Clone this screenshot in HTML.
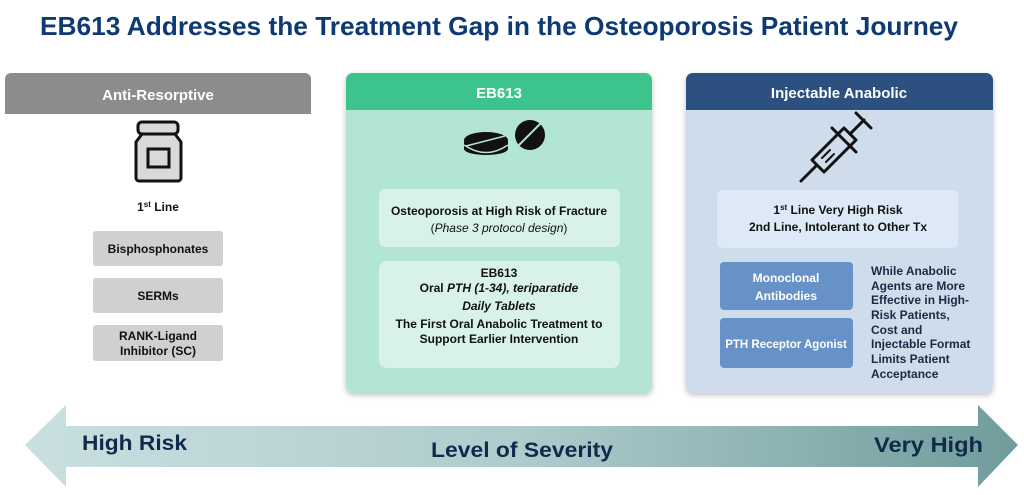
<!DOCTYPE html>
<html><head><meta charset="utf-8"><style>
body{margin:0;background:#fff;}
svg text{font-family:"Liberation Sans",sans-serif;font-weight:bold;}
</style></head><body>
<svg width="1024" height="490" viewBox="0 0 1024 490" xmlns="http://www.w3.org/2000/svg">
<defs>
<linearGradient id="ag" x1="0" x2="1" y1="0" y2="0">
<stop offset="0" stop-color="#c9dfe0"/><stop offset="0.5" stop-color="#afcbcc"/><stop offset="1" stop-color="#6f9c9c"/>
</linearGradient>
<filter id="sh" x="-10%" y="-10%" width="120%" height="120%"><feDropShadow dx="0" dy="2" stdDeviation="3" flood-color="#000" flood-opacity="0.25"/></filter>
</defs>
<text x="499" y="35" font-size="26" fill="#0e3a73" text-anchor="middle" textLength="918" lengthAdjust="spacingAndGlyphs">EB613 Addresses the Treatment Gap in the Osteoporosis Patient Journey</text>

<!-- left -->
<path d="M5,114 V79 a6,6 0 0 1 6,-6 H305 a6,6 0 0 1 6,6 V114 Z" fill="#8c8c8c"/>
<text x="158" y="100" font-size="15" fill="#fff" text-anchor="middle">Anti-Resorptive</text>
<rect x="138" y="122" width="40" height="12" rx="4" fill="#d9d9d9" stroke="#111" stroke-width="3"/>
<path d="M142,134 L136,142 V178 a3,3 0 0 0 3,3 H178 a3,3 0 0 0 3,-3 V142 L175,134 Z" fill="#d9d9d9" stroke="#111" stroke-width="3" stroke-linejoin="round"/>
<rect x="148" y="149" width="21" height="18" fill="#d9d9d9" stroke="#111" stroke-width="3"/>
<text x="158" y="211" font-size="12" fill="#111" text-anchor="middle">1<tspan font-size="8" dy="-4">st</tspan><tspan dy="4"> Line</tspan></text>
<rect x="93" y="231" width="130" height="35" rx="3" fill="#d0d0d0"/>
<text x="158" y="253" font-size="12" fill="#111" text-anchor="middle">Bisphosphonates</text>
<rect x="93" y="278" width="130" height="35" rx="3" fill="#d0d0d0"/>
<text x="158" y="300" font-size="12" fill="#111" text-anchor="middle">SERMs</text>
<rect x="93" y="325" width="130" height="36" rx="3" fill="#d0d0d0"/>
<text x="158" y="340" font-size="12" fill="#111" text-anchor="middle">RANK-Ligand</text>
<text x="158" y="355" font-size="12" fill="#111" text-anchor="middle">Inhibitor  (SC)</text>

<!-- center -->
<g filter="url(#sh)">
<rect x="346" y="73" width="306" height="320" rx="7" fill="#b3e6d2"/>
</g>
<path d="M346,110 V80 a7,7 0 0 1 7,-7 H645 a7,7 0 0 1 7,7 V110 Z" fill="#3dc48d"/>
<text x="499" y="98" font-size="15" fill="#fff" text-anchor="middle">EB613</text>
<ellipse cx="486" cy="142" rx="22" ry="8" fill="#111"/>
<rect x="464" y="142" width="44" height="7" fill="#111"/>
<ellipse cx="486" cy="149" rx="22" ry="6" fill="#111"/>
<ellipse cx="486" cy="140" rx="22" ry="8" fill="#111"/>
<line x1="466" y1="146" x2="505" y2="136" stroke="#b3e6d2" stroke-width="1.5"/>
<path d="M464,145 Q486,160 508,145" fill="none" stroke="#b3e6d2" stroke-width="1.5"/>
<circle cx="530" cy="135" r="15" fill="#111"/>
<line x1="518" y1="146" x2="541" y2="123" stroke="#b3e6d2" stroke-width="2"/>
<rect x="379" y="189" width="241" height="58" rx="6" fill="#d8f2e8"/>
<text x="499" y="215" font-size="12" fill="#111" text-anchor="middle">Osteoporosis at High Risk of Fracture</text>
<text x="499" y="232" font-size="12" fill="#111" text-anchor="middle" style="font-weight:normal">(<tspan font-style="italic">Phase 3 protocol design</tspan>)</text>
<rect x="379" y="261" width="241" height="107" rx="8" fill="#d8f2e8"/>
<text x="499" y="277" font-size="12" fill="#111" text-anchor="middle">EB613</text>
<text x="499" y="292" font-size="12" fill="#111" text-anchor="middle">Oral <tspan font-style="italic">PTH (1-34), teriparatide</tspan></text>
<text x="499" y="310" font-size="12" fill="#111" text-anchor="middle" font-style="italic">Daily Tablets</text>
<text x="499" y="328" font-size="12" fill="#111" text-anchor="middle">The First Oral Anabolic Treatment to</text>
<text x="499" y="343" font-size="12" fill="#111" text-anchor="middle">Support Earlier Intervention</text>

<!-- right -->
<g filter="url(#sh)">
<rect x="686" y="73" width="307" height="320" rx="7" fill="#cfdcec"/>
</g>
<path d="M686,110 V80 a7,7 0 0 1 7,-7 H986 a7,7 0 0 1 7,7 V110 Z" fill="#2c5180"/>
<text x="839" y="98" font-size="15" fill="#fff" text-anchor="middle">Injectable Anabolic</text>
<g stroke="#111" stroke-width="3" fill="none" stroke-linecap="round">
<line x1="801" y1="181" x2="816" y2="166"/>
<path d="M812,160 L844,128 L856,140 L824,172 Z" stroke-linejoin="round"/>
<line x1="832" y1="128" x2="856" y2="152"/>
<line x1="850" y1="134" x2="864" y2="120"/>
<line x1="856" y1="113" x2="871" y2="128"/>
<line x1="822" y1="158" x2="830" y2="150" stroke-width="2"/>
<line x1="826" y1="162" x2="834" y2="154" stroke-width="2"/>
</g>
<rect x="717" y="190" width="241" height="58" rx="5" fill="#dde9f7"/>
<text x="838" y="214" font-size="12" fill="#111" text-anchor="middle">1<tspan font-size="8" dy="-4">st</tspan><tspan dy="4"> Line Very High Risk</tspan></text>
<text x="838" y="231" font-size="12" fill="#111" text-anchor="middle">2nd Line, Intolerant to Other Tx</text>
<rect x="720" y="262" width="133" height="48" rx="4" fill="#6792c8"/>
<text x="786" y="282" font-size="12" fill="#fff" text-anchor="middle">Monoclonal</text>
<text x="786" y="300" font-size="12" fill="#fff" text-anchor="middle">Antibodies</text>
<rect x="720" y="318" width="133" height="50" rx="4" fill="#6792c8"/>
<text x="786" y="348" font-size="11.5" fill="#fff" text-anchor="middle">PTH Receptor Agonist</text>
<g font-size="12" fill="#1a2a44">
<text x="871" y="275">While Anabolic</text>
<text x="871" y="290">Agents are More</text>
<text x="871" y="304">Effective in High-</text>
<text x="871" y="319">Risk Patients,</text>
<text x="871" y="334">Cost and</text>
<text x="871" y="348">Injectable Format</text>
<text x="871" y="363">Limits Patient</text>
<text x="871" y="378">Acceptance</text>
</g>

<!-- arrow -->
<path d="M25,445 L66,405 V426 H978 V405 L1018,445 L978,487 V467 H66 V487 Z" fill="url(#ag)"/>
<text x="82" y="450" font-size="21" fill="#0f2a4a" textLength="105" lengthAdjust="spacingAndGlyphs">High Risk</text>
<text x="522" y="457" font-size="21" fill="#0f2a4a" text-anchor="middle" textLength="182" lengthAdjust="spacingAndGlyphs">Level of Severity</text>
<text x="983" y="452" font-size="21" fill="#0f2a4a" text-anchor="end" textLength="109" lengthAdjust="spacingAndGlyphs">Very High</text>
</svg>
</body></html>
